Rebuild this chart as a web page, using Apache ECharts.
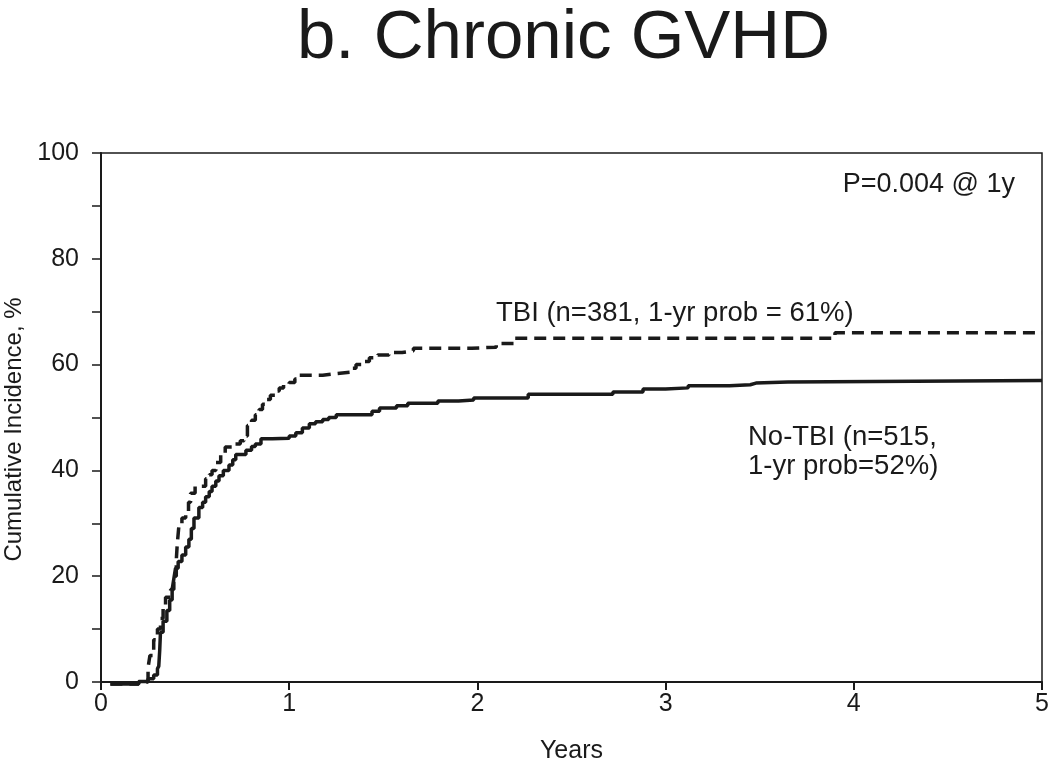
<!DOCTYPE html>
<html>
<head>
<meta charset="utf-8">
<script src="https://cdn.jsdelivr.net/npm/echarts@6/dist/echarts.min.js"></script>
<style>
html,body{margin:0;padding:0;background:#fff;}
#chart{width:1050px;height:761px;}
</style>
</head>
<body>
<div id="chart"></div>
<script>
// ---- Data (years, cumulative incidence %) ----
const tbiYears = [0.05,0.2,0.25,0.26,0.28,0.3,0.316,0.33,0.343,0.37,0.387,0.4,0.405,0.414,0.43,0.45,0.465,0.476,0.5,0.556,0.575,0.59,0.61,0.636,0.66,0.707,0.74,0.76,0.778,0.8,0.82,0.84,0.858,0.88,0.9,0.925,0.947,0.97,1.0,1.03,1.053,1.178,1.25,1.337,1.355,1.4,1.426,1.47,1.53,1.6,1.66,1.97,2.1,2.2,3.9,5.0];
const tbiValues = [-0.4,0,2.7,5,8,10,12,14,16,17.5,20,23,26,29.6,31,32,34,35.7,37,38.4,39.2,40,41.5,43,44.4,45,45.6,46.5,48.5,49.5,50.5,51.5,52.5,53.4,54.2,55,55.6,56.2,56.6,57.3,58,58.3,58.6,59.3,60,60.6,61.3,61.8,62.3,62.6,63.1,63.3,64,65,66,66];

const noTbiYears = [0.05,0.2,0.25,0.28,0.3,0.307,0.312,0.316,0.33,0.35,0.365,0.378,0.387,0.396,0.41,0.43,0.45,0.467,0.48,0.494,0.52,0.54,0.556,0.575,0.59,0.61,0.627,0.65,0.68,0.7,0.716,0.77,0.8,0.82,0.85,0.91,1.0,1.035,1.07,1.107,1.14,1.178,1.21,1.25,1.41,1.44,1.48,1.57,1.63,1.79,1.9,1.98,2.27,2.72,2.88,3.0,3.12,3.34,3.45,3.48,3.65,5.0];
const noTbiValues = [-0.4,0.1,0.6,1.3,2.5,3,6,9.4,11.5,13.5,15.5,17.5,19.5,21.5,22.8,24,25.5,27,29,31,33,34,35,36,37,38,39,40,41,42,43,43.8,44.5,45,46,46.1,46.5,47.1,48,48.8,49.2,49.6,50,50.5,50.5,51.2,51.8,52.2,52.7,53.1,53.3,53.7,54.4,54.8,55.4,55.6,56,56.2,56.5,56.7,57,57];

const xTicks = [0,1,2,3,4,5];
const yTicks = [0,20,40,60,80,100];

const titleText = 'b. Chronic GVHD';
const pText = 'P=0.004 @ 1y';
const tbiLabel = 'TBI (n=381, 1-yr prob = 61%)';
const noTbiLabel = ['No-TBI (n=515,', '1-yr prob=52%)'];

const FONT = '"Liberation Sans", Arial, Helvetica, sans-serif';
const INK = '#1a1a1a';

const zip = (xs, ys) => xs.map((x, i) => [x, ys[i]]);

const chart = echarts.init(document.getElementById('chart'), null, {renderer: 'canvas'});

const option = {
  backgroundColor: '#ffffff',
  animation: false,
  textStyle: {fontFamily: FONT, color: INK},
  grid: {
    left: 101, right: 8, top: 153, bottom: 79,
    outerBoundsMode: 'none', containLabel: false,
    show: true, borderColor: INK, borderWidth: 1.5, backgroundColor: 'transparent'
  },
  graphic: [
    {type: 'text', left: 297, top: 4, style: {text: titleText, font: '69px ' + FONT, fill: INK}},
    {type: 'text', right: 35, top: 171, style: {text: pText, font: '27px ' + FONT, fill: INK}},
    {type: 'text', left: 496, top: 299, style: {text: tbiLabel, font: '27.5px ' + FONT, fill: INK}},
    {type: 'text', left: 748, top: 423, style: {text: noTbiLabel.join('\n'), font: '27.5px ' + FONT, fill: INK, lineHeight: 29}}
  ],
  xAxis: {
    type: 'value', min: 0, max: 5, interval: 1,
    name: 'Years', nameLocation: 'middle', nameGap: 57,
    nameTextStyle: {fontSize: 25, fontFamily: FONT, color: INK},
    axisLine: {show: true, onZero: false, lineStyle: {color: INK, width: 2}},
    axisTick: {show: true, inside: false, length: 8, lineStyle: {color: INK, width: 2}},
    axisLabel: {fontSize: 25, fontFamily: FONT, color: INK, margin: 10,
      formatter: v => xTicks.indexOf(v) >= 0 ? String(v) : ''},
    splitLine: {show: false}
  },
  yAxis: {
    type: 'value', min: 0, max: 100, interval: 10,
    name: 'Cumulative Incidence, %', nameLocation: 'middle', nameGap: 67, nameRotate: 90,
    nameTextStyle: {fontSize: 24, fontFamily: FONT, color: INK, padding: [0, 24, 0, 0]},
    axisLine: {show: true, onZero: false, lineStyle: {color: INK, width: 2}},
    axisTick: {show: true, inside: false, length: 9, lineStyle: {color: INK, width: 1.5}},
    axisLabel: {fontSize: 25, fontFamily: FONT, color: INK, margin: 22,
      formatter: v => yTicks.indexOf(v) >= 0 ? String(v) : ''},
    splitLine: {show: false}
  },
  series: [
    {
      name: 'TBI', type: 'line', step: 'end', showSymbol: false, clip: false,
      data: zip(tbiYears, tbiValues),
      lineStyle: {color: INK, width: 3.5, type: [12, 7]}
    },
    {
      name: 'No-TBI', type: 'line', step: 'end', showSymbol: false, clip: false,
      data: zip(noTbiYears, noTbiValues),
      lineStyle: {color: INK, width: 3.5, type: 'solid'}
    }
  ]
};

chart.setOption(option);
</script>
</body>
</html>
